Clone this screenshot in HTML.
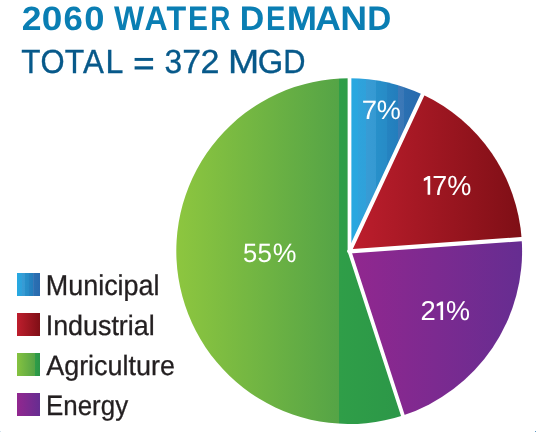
<!DOCTYPE html>
<html><head><meta charset="utf-8">
<style>
html,body{margin:0;padding:0;background:#fff;}
body{width:536px;height:432px;position:relative;overflow:hidden;font-family:"Liberation Sans",sans-serif;}
.lg{position:absolute;left:17px;width:23px;height:23px;}
svg{position:absolute;left:0;top:0;will-change:transform;}
text{font-family:"Liberation Sans",sans-serif;text-rendering:geometricPrecision;}
</style></head><body>
<div class="lg" style="top:273px;background:linear-gradient(90deg,#27a9e1 0.0%,#29a6df 11.6%,#2ea3dc 11.6%,#2fa1da 22.3%,#389cd5 22.3%,#3599d2 36.8%,#2790ca 36.8%,#278bc6 51.2%,#2584c1 51.2%,#237dbc 67.4%,#3c79b8 67.4%,#3a77b6 75.4%,#2a70b2 75.4%,#2869ad 100.0%)"></div>
<div class="lg" style="top:313px;background:linear-gradient(90deg,#be1e2d,#7f0f16)"></div>
<div class="lg" style="top:353px;background:linear-gradient(90deg,#86c240 0%,#55a446 77%,#2f9e48 77%,#2a9447 100%)"></div>
<div class="lg" style="top:393px;background:linear-gradient(90deg,#92278f,#662d91)"></div>

<svg width="536" height="432" viewBox="0 0 536 432">
<defs>
<linearGradient id="gmun" gradientUnits="userSpaceOnUse" x1="349.5" y1="0" x2="422.0" y2="0"><stop offset="0.0" stop-color="#27a9e1"/><stop offset="0.1159" stop-color="#29a6df"/><stop offset="0.1159" stop-color="#2ea3dc"/><stop offset="0.2234" stop-color="#2fa1da"/><stop offset="0.2234" stop-color="#389cd5"/><stop offset="0.3683" stop-color="#3599d2"/><stop offset="0.3683" stop-color="#2790ca"/><stop offset="0.5117" stop-color="#278bc6"/><stop offset="0.5117" stop-color="#2584c1"/><stop offset="0.6745" stop-color="#237dbc"/><stop offset="0.6745" stop-color="#3c79b8"/><stop offset="0.7545" stop-color="#3a77b6"/><stop offset="0.7545" stop-color="#2a70b2"/><stop offset="1.0" stop-color="#2869ad"/></linearGradient>
<linearGradient id="gind" gradientUnits="userSpaceOnUse" x1="349" y1="0" x2="521" y2="0"><stop offset="0" stop-color="#be1e2d"/><stop offset="1" stop-color="#7f0f16"/></linearGradient>
<linearGradient id="gene" gradientUnits="userSpaceOnUse" x1="349" y1="0" x2="521" y2="0"><stop offset="0" stop-color="#92278f"/><stop offset="1" stop-color="#662d91"/></linearGradient>
<linearGradient id="gagr" gradientUnits="userSpaceOnUse" x1="177" y1="0" x2="402" y2="0"><stop offset="0" stop-color="#8dc63f"/><stop offset="0.72" stop-color="#55a446"/><stop offset="0.72" stop-color="#2f9e48"/><stop offset="1" stop-color="#2c9748"/></linearGradient>

</defs>
<path d="M349.5,251.3 L349.50,78.20 A172.9,172.9 0 0 1 422.59,94.55 Z" fill="url(#gmun)"/>
<path d="M349.5,251.3 L422.59,94.55 A172.9,172.9 0 0 1 521.68,239.11 Z" fill="url(#gind)"/>
<path d="M349.5,251.3 L521.68,239.11 A172.9,172.9 0 0 1 402.84,415.47 Z" fill="url(#gene)"/>
<path d="M349.5,251.3 L402.84,415.47 A172.9,172.9 0 1 1 349.50,78.20 Z" fill="url(#gagr)"/>
<g stroke="#fff" stroke-width="3.75" stroke-linecap="round">
<line x1="349.5" y1="251.3" x2="349.50" y2="72.20" stroke-width="3.75"/>
<line x1="349.5" y1="251.3" x2="425.13" y2="89.11" stroke-width="4.0"/>
<line x1="349.5" y1="251.3" x2="527.67" y2="238.68" stroke-width="4.3"/>
<line x1="349.5" y1="251.3" x2="404.70" y2="421.17" stroke-width="3.75"/>
</g>
<text transform="translate(21.769,30.000) scale(1.0544,1)" font-size="33.687" font-weight="bold" fill="#0a7eb3">2</text>
<text transform="translate(41.836,30.000) scale(1.0986,1)" font-size="33.687" font-weight="bold" fill="#0a7eb3">0</text>
<text transform="translate(63.527,30.000) scale(1.0317,1)" font-size="33.687" font-weight="bold" fill="#0a7eb3">6</text>
<text transform="translate(84.361,30.000) scale(1.0798,1)" font-size="33.687" font-weight="bold" fill="#0a7eb3">0</text>
<text transform="translate(114.019,30.000) scale(0.9405,1)" font-size="34.034" font-weight="bold" fill="#0a7eb3">W</text>
<text transform="translate(144.602,30.000) scale(0.9416,1)" font-size="34.034" font-weight="bold" fill="#0a7eb3">A</text>
<text transform="translate(166.538,30.000) scale(0.9480,1)" font-size="34.034" font-weight="bold" fill="#0a7eb3">T</text>
<text transform="translate(188.097,30.000) scale(0.8798,1)" font-size="34.034" font-weight="bold" fill="#0a7eb3">E</text>
<text transform="translate(210.135,30.000) scale(0.8193,1)" font-size="34.034" font-weight="bold" fill="#0a7eb3">R</text>
<text transform="translate(239.781,30.000) scale(0.9965,1)" font-size="34.034" font-weight="bold" fill="#0a7eb3">D</text>
<text transform="translate(266.056,30.000) scale(0.8537,1)" font-size="34.034" font-weight="bold" fill="#0a7eb3">E</text>
<text transform="translate(286.665,30.000) scale(1.0695,1)" font-size="34.034" font-weight="bold" fill="#0a7eb3">M</text>
<text transform="translate(315.317,30.000) scale(1.0423,1)" font-size="34.034" font-weight="bold" fill="#0a7eb3">A</text>
<text transform="translate(340.308,30.000) scale(1.0946,1)" font-size="34.034" font-weight="bold" fill="#0a7eb3">N</text>
<text transform="translate(367.175,30.000) scale(0.9774,1)" font-size="34.034" font-weight="bold" fill="#0a7eb3">D</text>
<text transform="translate(21.368,72.850) scale(0.9425,1)" font-size="33.400" font-weight="normal" fill="#07598a" stroke="#07598a" stroke-width="0.35">T</text>
<text transform="translate(40.608,72.850) scale(0.9277,1)" font-size="33.400" font-weight="normal" fill="#07598a" stroke="#07598a" stroke-width="0.35">O</text>
<text transform="translate(64.758,72.850) scale(0.9558,1)" font-size="33.400" font-weight="normal" fill="#07598a" stroke="#07598a" stroke-width="0.35">T</text>
<text transform="translate(83.014,72.850) scale(0.9369,1)" font-size="33.400" font-weight="normal" fill="#07598a" stroke="#07598a" stroke-width="0.35">A</text>
<text transform="translate(105.542,72.850) scale(0.9608,1)" font-size="33.400" font-weight="normal" fill="#07598a" stroke="#07598a" stroke-width="0.35">L</text>
<text transform="translate(164.566,72.850) scale(0.9504,1)" font-size="33.400" font-weight="normal" fill="#07598a" stroke="#07598a" stroke-width="0.35">3</text>
<text transform="translate(182.244,72.850) scale(1.0110,1)" font-size="33.400" font-weight="normal" fill="#07598a" stroke="#07598a" stroke-width="0.35">7</text>
<text transform="translate(200.558,72.850) scale(1.0220,1)" font-size="33.400" font-weight="normal" fill="#07598a" stroke="#07598a" stroke-width="0.35">2</text>
<text transform="translate(228.103,72.850) scale(1.1212,1)" font-size="33.400" font-weight="normal" fill="#07598a" stroke="#07598a" stroke-width="0.35">M</text>
<text transform="translate(257.830,72.850) scale(0.9792,1)" font-size="33.400" font-weight="normal" fill="#07598a" stroke="#07598a" stroke-width="0.35">G</text>
<text transform="translate(283.147,72.850) scale(0.9225,1)" font-size="33.400" font-weight="normal" fill="#07598a" stroke="#07598a" stroke-width="0.35">D</text>
<text transform="translate(45.783,295.176) scale(0.9419,1)" font-size="28.609" font-weight="normal" fill="#231f20" stroke="#231f20" stroke-width="0.3">Municipal</text>
<text transform="translate(45.665,335.406) scale(0.9595,1)" font-size="28.000" font-weight="normal" fill="#231f20" stroke="#231f20" stroke-width="0.3">Industrial</text>
<text transform="translate(46.174,375.401) scale(0.9691,1)" font-size="27.821" font-weight="normal" fill="#231f20" stroke="#231f20" stroke-width="0.3">Agriculture</text>
<text transform="translate(45.994,415.397) scale(0.9257,1)" font-size="28.008" font-weight="normal" fill="#231f20" stroke="#231f20" stroke-width="0.3">Energy</text>
<text transform="translate(361.690,118.904) scale(1.0371,1)" font-size="26.513" font-weight="normal" fill="#ffffff">7</text>
<text transform="translate(376.685,118.904) scale(1.0215,1)" font-size="26.513" font-weight="normal" fill="#ffffff">%</text>
<text transform="translate(432.224,195.020) scale(0.9718,1)" font-size="27.617" font-weight="normal" fill="#ffffff">7</text>
<text transform="translate(447.132,195.020) scale(0.9829,1)" font-size="27.617" font-weight="normal" fill="#ffffff">%</text>
<text transform="translate(420.420,320.245) scale(1.0052,1)" font-size="27.295" font-weight="normal" fill="#ffffff">2</text>
<text transform="translate(445.937,320.245) scale(0.9900,1)" font-size="27.295" font-weight="normal" fill="#ffffff">%</text>
<text transform="translate(242.878,262.352) scale(0.9599,1)" font-size="26.587" font-weight="normal" fill="#ffffff">5</text>
<text transform="translate(257.461,262.352) scale(0.9758,1)" font-size="26.587" font-weight="normal" fill="#ffffff">5</text>
<text transform="translate(272.650,262.352) scale(1.0025,1)" font-size="26.587" font-weight="normal" fill="#ffffff">%</text>
<path fill="#fff" d="M430.20,176.00 L430.20,194.70 L427.60,194.70 L427.60,179.60 L423.80,181.20 L423.80,178.60 L428.00,176.00 Z"/>
<path fill="#fff" d="M443.10,301.40 L443.10,320.10 L440.50,320.10 L440.50,305.00 L436.70,306.60 L436.70,304.00 L440.90,301.40 Z"/>
<rect x="134.6" y="57.95" width="18.5" height="2.95" fill="#07598a"/><rect x="134.6" y="66.3" width="18.5" height="3.2" fill="#07598a"/>
<rect x="535" y="431" width="1" height="1" fill="#5a98c4"/>
<rect x="0" y="431" width="1" height="1" fill="#d2e2ee"/>

</svg>
</body></html>
